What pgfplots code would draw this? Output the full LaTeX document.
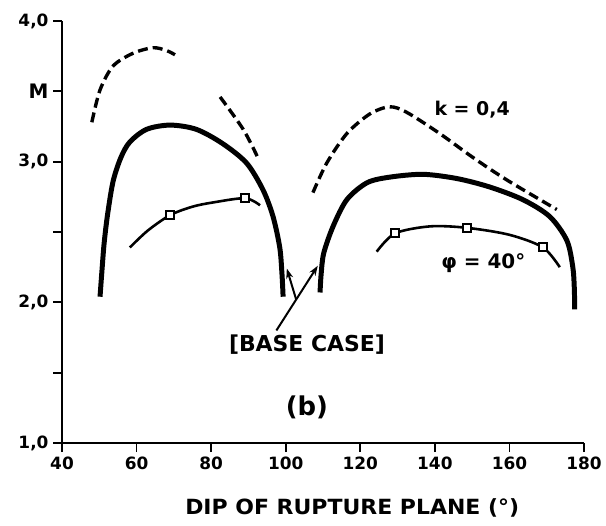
\documentclass[border=0pt]{standalone}
\usepackage{fontspec}
\setmainfont{DejaVu Sans}
\usepackage{pgfplots}
\pgfplotsset{compat=1.18}
\usetikzlibrary{arrows.meta}

\begin{document}
\begin{tikzpicture}
\useasboundingbox (-62bp,-83bp) rectangle (544bp,443bp);
\begin{axis}[
  scale only axis, width=522bp, height=422bp,
  xmin=40, xmax=180, ymin=1, ymax=4,
  axis lines=left,
  axis line style={-, line width=2.4pt},
  tick align=outside,
  major tick length=9bp,
  tick style={black, line width=1.8pt},
  xtick={40,60,...,180},
  ytick={1,1.5,...,4},
  yticklabels={{1,0},{},{2,0},{},{3,0},{\fontsize{20}{20}\selectfont M},{4,0}},
  /pgf/number format/assume math mode=true,
  tick label style={font=\bfseries\fontsize{17}{17}\selectfont},
  xticklabel style={yshift=-1bp},
  yticklabel style={xshift=-1bp},
  xlabel={\scalebox{1.05}[1]{DIP OF RUPTURE PLANE (°)}},
  xlabel style={at={(axis description cs:0.556,-0.154)}, anchor=center,
    font=\bfseries\fontsize{21}{21}\selectfont},
  clip=false,
]

% thick solid: base case curves
\addplot[black, line width=5pt, smooth, tension=0.5] coordinates {
  (50.2,2.04) (50.7,2.22) (51.3,2.42) (52.2,2.62) (53.7,2.86) (55.8,3.03)
  (58.2,3.14) (62.7,3.23) (69,3.26) (76,3.23) (83,3.13) (89.5,2.99)
  (93.9,2.80) (96.6,2.61) (98.4,2.39) (99.0,2.20) (99.3,2.04)
};
\addplot[black, line width=5pt, smooth, tension=0.5] coordinates {
  (109.2,2.07) (109.5,2.20) (110.2,2.35) (112.7,2.54) (116.4,2.73)
  (121.8,2.85) (127.9,2.89) (136.8,2.91) (145.9,2.88) (154.7,2.82)
  (163.6,2.73) (170.8,2.61) (175.4,2.44) (177,2.25) (177.4,2.10) (177.5,1.95)
};

% dashed: k = 0,4
\addplot[black, line width=3.4pt, dash pattern=on 10bp off 5bp, smooth] coordinates {
  (48,3.28) (50.2,3.51) (53.7,3.68) (59,3.77) (64.4,3.81) (68,3.79) (70.3,3.76)
};
\addplot[black, line width=3.4pt, dash pattern=on 10bp off 5bp, smooth] coordinates {
  (82.4,3.46) (88.6,3.23) (92.5,3.03)
};
\addplot[black, line width=3.4pt, dash pattern=on 10bp off 5bp, smooth] coordinates {
  (107.3,2.78) (111,2.99) (116.4,3.20) (122.6,3.34) (127.9,3.39)
  (132.5,3.35) (141.3,3.20) (150.2,3.03) (159.3,2.87) (172.7,2.66)
};

% thin solid with squares: phi = 40 deg
\addplot[black, line width=2.6pt, smooth] coordinates {
  (58.2,2.39) (63,2.51) (69,2.62) (75,2.68) (80.5,2.71) (89.1,2.74) (93.1,2.69)
};
\addplot[black, line width=2.6pt, smooth] coordinates {
  (124.4,2.36) (129.3,2.49) (138.7,2.54) (148.5,2.53) (160,2.48) (169,2.39) (173.5,2.25)
};
\addplot[only marks, mark=square*, mark size=4pt,
  mark options={fill=white, draw=black, line width=2pt}] coordinates {
  (69,2.62) (89.1,2.74) (129.3,2.49) (148.5,2.53) (169,2.39)
};

% annotations
\node[font=\bfseries\fontsize{19}{19}\selectfont] at (axis cs:150,3.37) {k = 0,4};
\node[font=\bfseries\fontsize{20}{20}\selectfont] at (axis cs:153,2.28) {φ = 40°};
\node[font=\bfseries\fontsize{22}{22}\selectfont] at (axis cs:105.7,1.70) {[BASE CASE]};
\node[font=\bfseries\fontsize{26}{26}\selectfont] at (axis cs:105.7,1.25) {(b)};

\draw[black, line width=2pt, -{Stealth[length=10pt,width=7pt]}]
  (axis cs:97.5,1.80) -- (axis cs:108.6,2.26);
\draw[black, line width=2pt, -{Stealth[length=10pt,width=7pt]}]
  (axis cs:102.8,2.02) -- (axis cs:100.3,2.24);
\end{axis}
\end{tikzpicture}
\end{document}
